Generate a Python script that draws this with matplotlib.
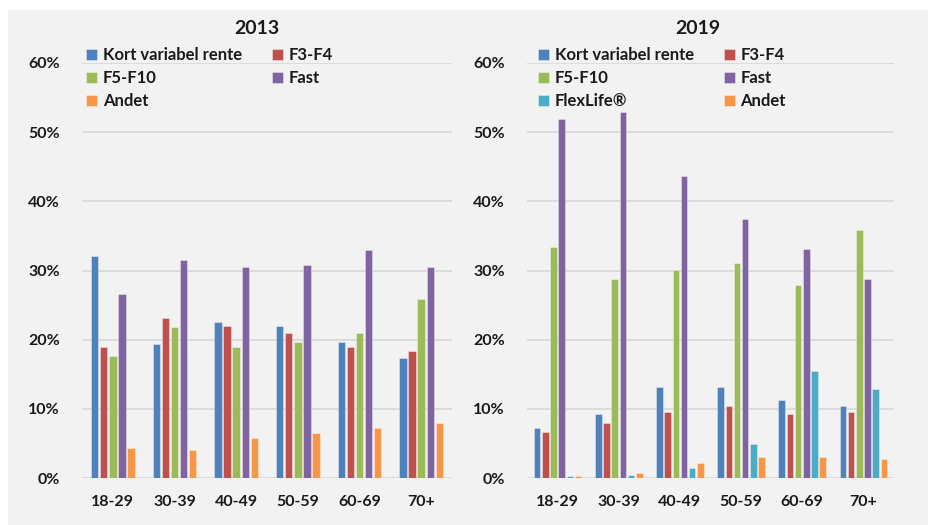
import matplotlib
matplotlib.use("Agg")
import matplotlib.pyplot as plt
from matplotlib.patches import Rectangle
from matplotlib.ticker import FuncFormatter, MultipleLocator
import numpy as np

plt.rcParams['font.family'] = ['Lato', 'DejaVu Sans']
plt.rcParams['font.weight'] = 'bold'

age_groups = ["18-29", "30-39", "40-49", "50-59", "60-69", "70+"]

# Share of loans by type and borrower age, 2013 (%)
kort_2013 = [32.1, 19.4, 22.5, 22.0, 19.7, 17.4]
f3f4_2013 = [19.0, 23.2, 22.0, 21.0, 19.0, 18.3]
f5f10_2013 = [17.6, 21.8, 19.0, 19.7, 21.0, 25.9]
fast_2013 = [26.6, 31.5, 30.5, 30.8, 32.9, 30.5]
andet_2013 = [4.4, 4.0, 5.8, 6.5, 7.2, 7.9]

# Share of loans by type and borrower age, 2019 (%)
kort_2019 = [7.2, 9.2, 13.1, 13.1, 11.3, 10.4]
f3f4_2019 = [6.7, 7.9, 9.5, 10.4, 9.2, 9.5]
f5f10_2019 = [33.4, 28.7, 30.1, 31.1, 27.9, 35.9]
fast_2019 = [51.9, 52.9, 43.7, 37.5, 33.1, 28.7]
flexlife_2019 = [0.3, 0.5, 1.4, 4.9, 15.4, 12.9]
andet_2019 = [0.3, 0.7, 2.1, 3.0, 3.0, 2.8]

BLUE, RED, GREEN, PURPLE, AQUA, ORANGE = "#4F81BD", "#C0504D", "#9BBB59", "#8064A2", "#4BACC6", "#F79646"
BG = "#F2F2F2"
GRID = "#D9D9D9"
TXT = "#1A1A1A"

W, H = 929, 525
fig = plt.figure(figsize=(W / 100, H / 100), dpi=100)
fig.patch.set_facecolor("white")
fig.add_artist(Rectangle((8 / W, 0), 1, 1 - 10 / H, transform=fig.transFigure,
                         facecolor=BG, edgecolor="none", zorder=-10))


def px_axes(x0, x1, y_top, y_bot):
    return fig.add_axes([x0 / W, 1 - y_bot / H, (x1 - x0) / W, (y_bot - y_top) / H])


def draw_panel(ax, series, pitch, width, title, title_x, legend_x):
    x = np.arange(len(age_groups))
    n = len(series)
    handles = []
    for i, (label, vals, color) in enumerate(series):
        off = (i - (n - 1) / 2) * pitch
        b = ax.bar(x + off, vals, width=width, color=color,
                   edgecolor=(1, 1, 1, 0.5), linewidth=0.5, label=label, zorder=3)
        handles.append(b)
    ax.set_xlim(-0.5, len(age_groups) - 0.5)
    ax.set_ylim(0, 60)
    ax.yaxis.set_major_locator(MultipleLocator(10))
    ax.yaxis.set_major_formatter(FuncFormatter(lambda v, p: f"{v:.0f}%"))
    ax.set_xticks(x)
    ax.set_xticklabels(age_groups)
    ax.set_facecolor("none")
    for s in ax.spines.values():
        s.set_visible(False)
    ax.tick_params(length=0, labelsize=11.5, colors=TXT)
    ax.tick_params(axis="y", pad=16)
    ax.tick_params(axis="x", pad=12)
    ax.grid(axis="y", color=GRID, linewidth=1.3, zorder=0)
    ax.set_axisbelow(True)
    fig.text(title_x / W, 1 - 28 / H, title, ha="center", va="center",
             fontsize=14, fontweight="bold", color=TXT)
    # row-wise ordering for a two-column legend
    labels = [s[0] for s in series]
    order = list(range(0, n, 2)) + list(range(1, n, 2))
    ax.legend([handles[i] for i in order], [labels[i] for i in order], ncol=2,
              loc="upper left", bbox_to_anchor=(legend_x / W, 1 - 47 / H),
              bbox_transform=fig.transFigure, frameon=False, fontsize=12,
              handlelength=0.65, handleheight=0.65, handletextpad=0.35,
              columnspacing=1.8, labelspacing=0.42, borderpad=0, borderaxespad=0,
              labelcolor=TXT)


ax1 = px_axes(82, 452, 63, 478)
draw_panel(ax1, [("Kort variabel rente", kort_2013, BLUE),
                 ("F3-F4", f3f4_2013, RED),
                 ("F5-F10", f5f10_2013, GREEN),
                 ("Fast", fast_2013, PURPLE),
                 ("Andet", andet_2013, ORANGE)],
           pitch=0.148, width=0.121, title="2013", title_x=257, legend_x=86)

ax2 = px_axes(527, 894, 63, 478)
draw_panel(ax2, [("Kort variabel rente", kort_2019, BLUE),
                 ("F3-F4", f3f4_2019, RED),
                 ("F5-F10", f5f10_2019, GREEN),
                 ("Fast", fast_2019, PURPLE),
                 ("FlexLife®", flexlife_2019, AQUA),
                 ("Andet", andet_2019, ORANGE)],
           pitch=0.134, width=0.107, title="2019", title_x=698, legend_x=538)

fig.savefig("out.png", dpi=100, facecolor=fig.get_facecolor())
